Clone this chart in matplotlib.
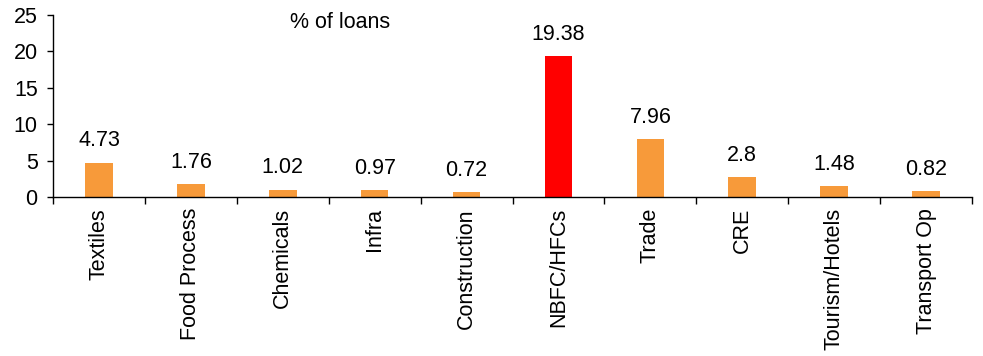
import matplotlib
matplotlib.use("Agg")
import matplotlib.pyplot as plt

categories = ["Textiles", "Food Process", "Chemicals", "Infra", "Construction",
              "NBFC/HFCs", "Trade", "CRE", "Tourism/Hotels", "Transport Op"]
values = [4.73, 1.76, 1.02, 0.97, 0.72, 19.38, 7.96, 2.8, 1.48, 0.82]
value_labels = ["4.73", "1.76", "1.02", "0.97", "0.72", "19.38", "7.96", "2.8", "1.48", "0.82"]
highlight = "NBFC/HFCs"
y_ticks = [0, 5, 10, 15, 20, 25]
title_text = "% of loans"

plt.rcParams['font.family'] = ['Liberation Sans', 'DejaVu Sans']
FS = 15.5

fig = plt.figure(figsize=(9.83, 3.56), dpi=100)
ax = fig.add_axes([53/983, 1-197/356, 919/983, 182/356])

colors = ["#FF0000" if c == highlight else "#F79A3A" for c in categories]
x = list(range(len(categories)))
ax.bar(x, values, width=0.3, color=colors)

for xi, v, lab in zip(x, values, value_labels):
    ax.annotate(lab, (xi, v), xytext=(0, 8), textcoords="offset points",
                ha="center", va="bottom", fontsize=FS)

ax.set_xlim(-0.5, len(categories) - 0.5)
ax.set_ylim(0, 25)
ax.set_yticks(y_ticks)
ax.tick_params(axis='y', labelsize=FS, length=4, width=1, direction='out', pad=7)

ax.set_xticks(x)
ax.set_xticklabels(categories, rotation=90, fontsize=FS)
ax.tick_params(axis='x', length=0, pad=8)
ax.set_xticks([i + 0.5 for i in range(-1, len(categories))], minor=True)
ax.tick_params(axis='x', which='minor', length=5, width=1, direction='out')

for s in ["top", "right"]:
    ax.spines[s].set_visible(False)
ax.spines["left"].set_linewidth(1)
ax.spines["bottom"].set_linewidth(1)

ax.text(0.312, 0.96, title_text, transform=ax.transAxes, ha="center", va="center", fontsize=FS)

fig.savefig("out.png", dpi=100)
